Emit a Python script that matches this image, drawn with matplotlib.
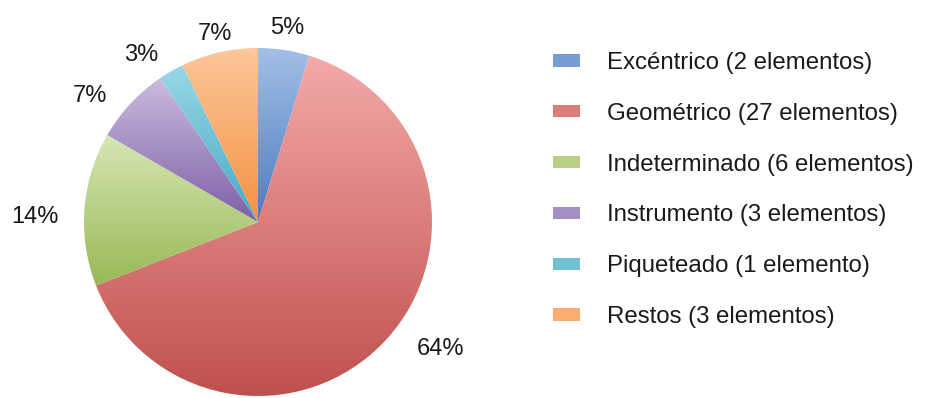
import matplotlib
matplotlib.use("Agg")
import matplotlib.pyplot as plt
import numpy as np
from matplotlib.colors import to_rgb
from matplotlib.patches import Patch

plt.rcParams['font.family'] = ['Liberation Sans', 'DejaVu Sans']

categorias = ["Excéntrico (2 elementos)", "Geométrico (27 elementos)", "Indeterminado (6 elementos)",
              "Instrumento (3 elementos)", "Piqueteado (1 elemento)", "Restos (3 elementos)"]
elementos = [2, 27, 6, 3, 1, 3]
porcentajes = ["5%", "64%", "14%", "7%", "3%", "7%"]

# gradient colours (top, bottom) per wedge
col_claro = ["#a3bfe6", "#f3aaa9", "#d6e6b4", "#cbbbe0", "#9ad7e6", "#fcc79a"]
col_oscuro = ["#4a7cc0", "#c0504d", "#98b955", "#7d60a6", "#45a9c4", "#f59242"]

# label placement (distance as fraction of radius, angle nudge in degrees)
lab_dist = [1.13, 1.28, 1.28, 1.21, 1.17, 1.11]
lab_nudge = [0, 8, 3, 6, 5, 0]

fig = plt.figure(figsize=(9.25, 3.98), dpi=100)
ax = fig.add_axes([0, 0, 1, 1])
cx, cy, r = 258, 176, 174

wedges, _ = ax.pie(elementos, startangle=90, counterclock=False, radius=r, center=(cx, cy),
                   frame=True, wedgeprops=dict(linewidth=0))

for w, c1, c2 in zip(wedges, col_claro, col_oscuro):
    bb = w.get_path().get_extents()
    a = np.array(to_rgb(c1)); b = np.array(to_rgb(c2))
    t = np.linspace(0, 1, 256)[:, None]
    grad = (a * (1 - t) + b * t)[:, None, :]
    w.set_facecolor("none")
    im = ax.imshow(grad, extent=(bb.x0, bb.x1, bb.y0, bb.y1), origin="upper",
                   aspect="auto", interpolation="bilinear", zorder=1)
    im.set_clip_path(w)

for w, txt, d, n in zip(wedges, porcentajes, lab_dist, lab_nudge):
    ang = np.deg2rad((w.theta1 + w.theta2) / 2 + n)
    ax.text(cx + r * d * np.cos(ang), cy + r * d * np.sin(ang), txt, ha="center", va="center",
            fontsize=17, color="#1a1a1a")

handles = [Patch(facecolor=tuple((np.array(to_rgb(c1)) + np.array(to_rgb(c2))) / 2), edgecolor="none")
           for c1, c2 in zip(col_claro, col_oscuro)]
fig.legend(handles, categorias, loc="upper left", bbox_to_anchor=(553 / 925, 1 - 52 / 398), frameon=False,
           fontsize=17.3, handlelength=1.12, handleheight=0.42, handletextpad=1.12, labelspacing=1.2,
           borderpad=0, borderaxespad=0, labelcolor="#1a1a1a")

ax.set_xlim(0, 925)
ax.set_ylim(0, 398)
ax.set_aspect("equal")
ax.axis("off")
fig.savefig("out.png", dpi=100)
